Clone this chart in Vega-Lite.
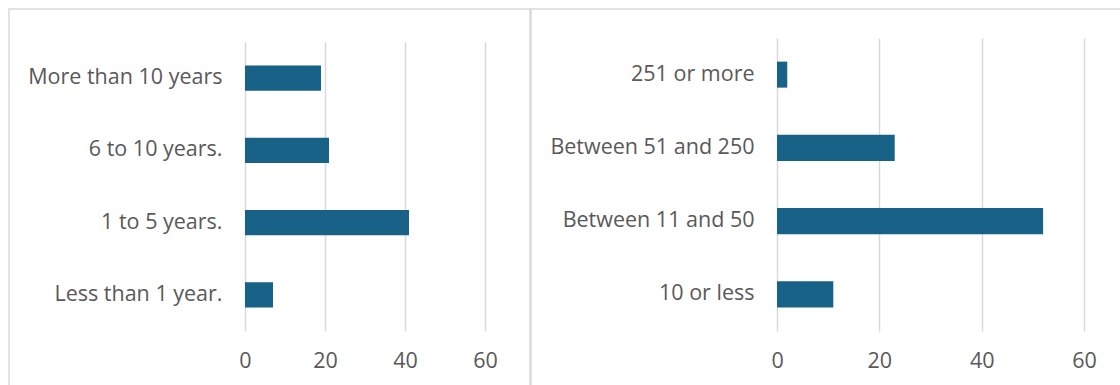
{
  "$schema": "https://vega.github.io/schema/vega-lite/v6.json",
  "padding": {"left": 8, "top": 8, "right": 0, "bottom": 0},
  "autosize": {"type": "pad"},
  "spacing": -2,
  "background": "white",
  "config": {
    "view": {"stroke": "#d9d9d9", "strokeWidth": 1.5},
    "font": "Open Sans",
    "axis": {"labelColor": "#595959", "labelFontSize": 21.5, "labelFont": "Open Sans", "labelLimit": 400, "title": null, "grid": false, "domain": false}
  },
  "datasets": {
    "tenure": [
      {"category": "More than 10 years", "value": 19},
      {"category": "6 to 10 years.", "value": 21},
      {"category": "1 to 5 years.", "value": 41},
      {"category": "Less than 1 year.", "value": 7}
    ],
    "size": [
      {"category": "251 or more", "value": 2},
      {"category": "Between 51 and 250", "value": 23},
      {"category": "Between 11 and 50", "value": 52},
      {"category": "10 or less", "value": 11}
    ]
  },
  "hconcat": [
    {
      "width": 521,
      "height": 380,
      "data": {"name": "tenure"},
      "mark": {"type": "bar", "color": "#186187"},
      "encoding": {
        "y": {
          "field": "category", "type": "nominal",
          "sort": ["More than 10 years", "6 to 10 years.", "1 to 5 years.", "Less than 1 year."],
          "scale": {"range": [33, 322], "paddingInner": 0.65, "paddingOuter": 0.325},
          "axis": {"orient": "left", "offset": -236, "ticks": false, "labelPadding": 23}
        },
        "x": {
          "field": "value", "type": "quantitative",
          "scale": {"domain": [-59, 71.25], "nice": false, "zero": false},
          "axis": {"orient": "bottom", "values": [0, 20, 40, 60], "offset": -58, "tickSize": -289, "tickColor": "#d9d9d9", "tickWidth": 1.5, "labelPadding": 308, "labelFlush": false}
        },
        "x2": {"datum": 0}
      }
    },
    {
      "width": 600,
      "height": 380,
      "data": {"name": "size"},
      "mark": {"type": "bar", "color": "#186187"},
      "encoding": {
        "y": {
          "field": "category", "type": "nominal",
          "sort": ["251 or more", "Between 51 and 250", "Between 11 and 50", "10 or less"],
          "scale": {"range": [29, 322], "paddingInner": 0.645, "paddingOuter": 0.3225},
          "axis": {"orient": "left", "offset": -246, "ticks": false, "labelPadding": 23}
        },
        "x": {
          "field": "value", "type": "quantitative",
          "scale": {"domain": [-48.08, 69.18], "nice": false, "zero": false},
          "axis": {"orient": "bottom", "values": [0, 20, 40, 60], "offset": -58, "tickSize": -293, "tickColor": "#d9d9d9", "tickWidth": 1.5, "labelPadding": 312, "labelFlush": false}
        },
        "x2": {"datum": 0}
      }
    }
  ]
}
